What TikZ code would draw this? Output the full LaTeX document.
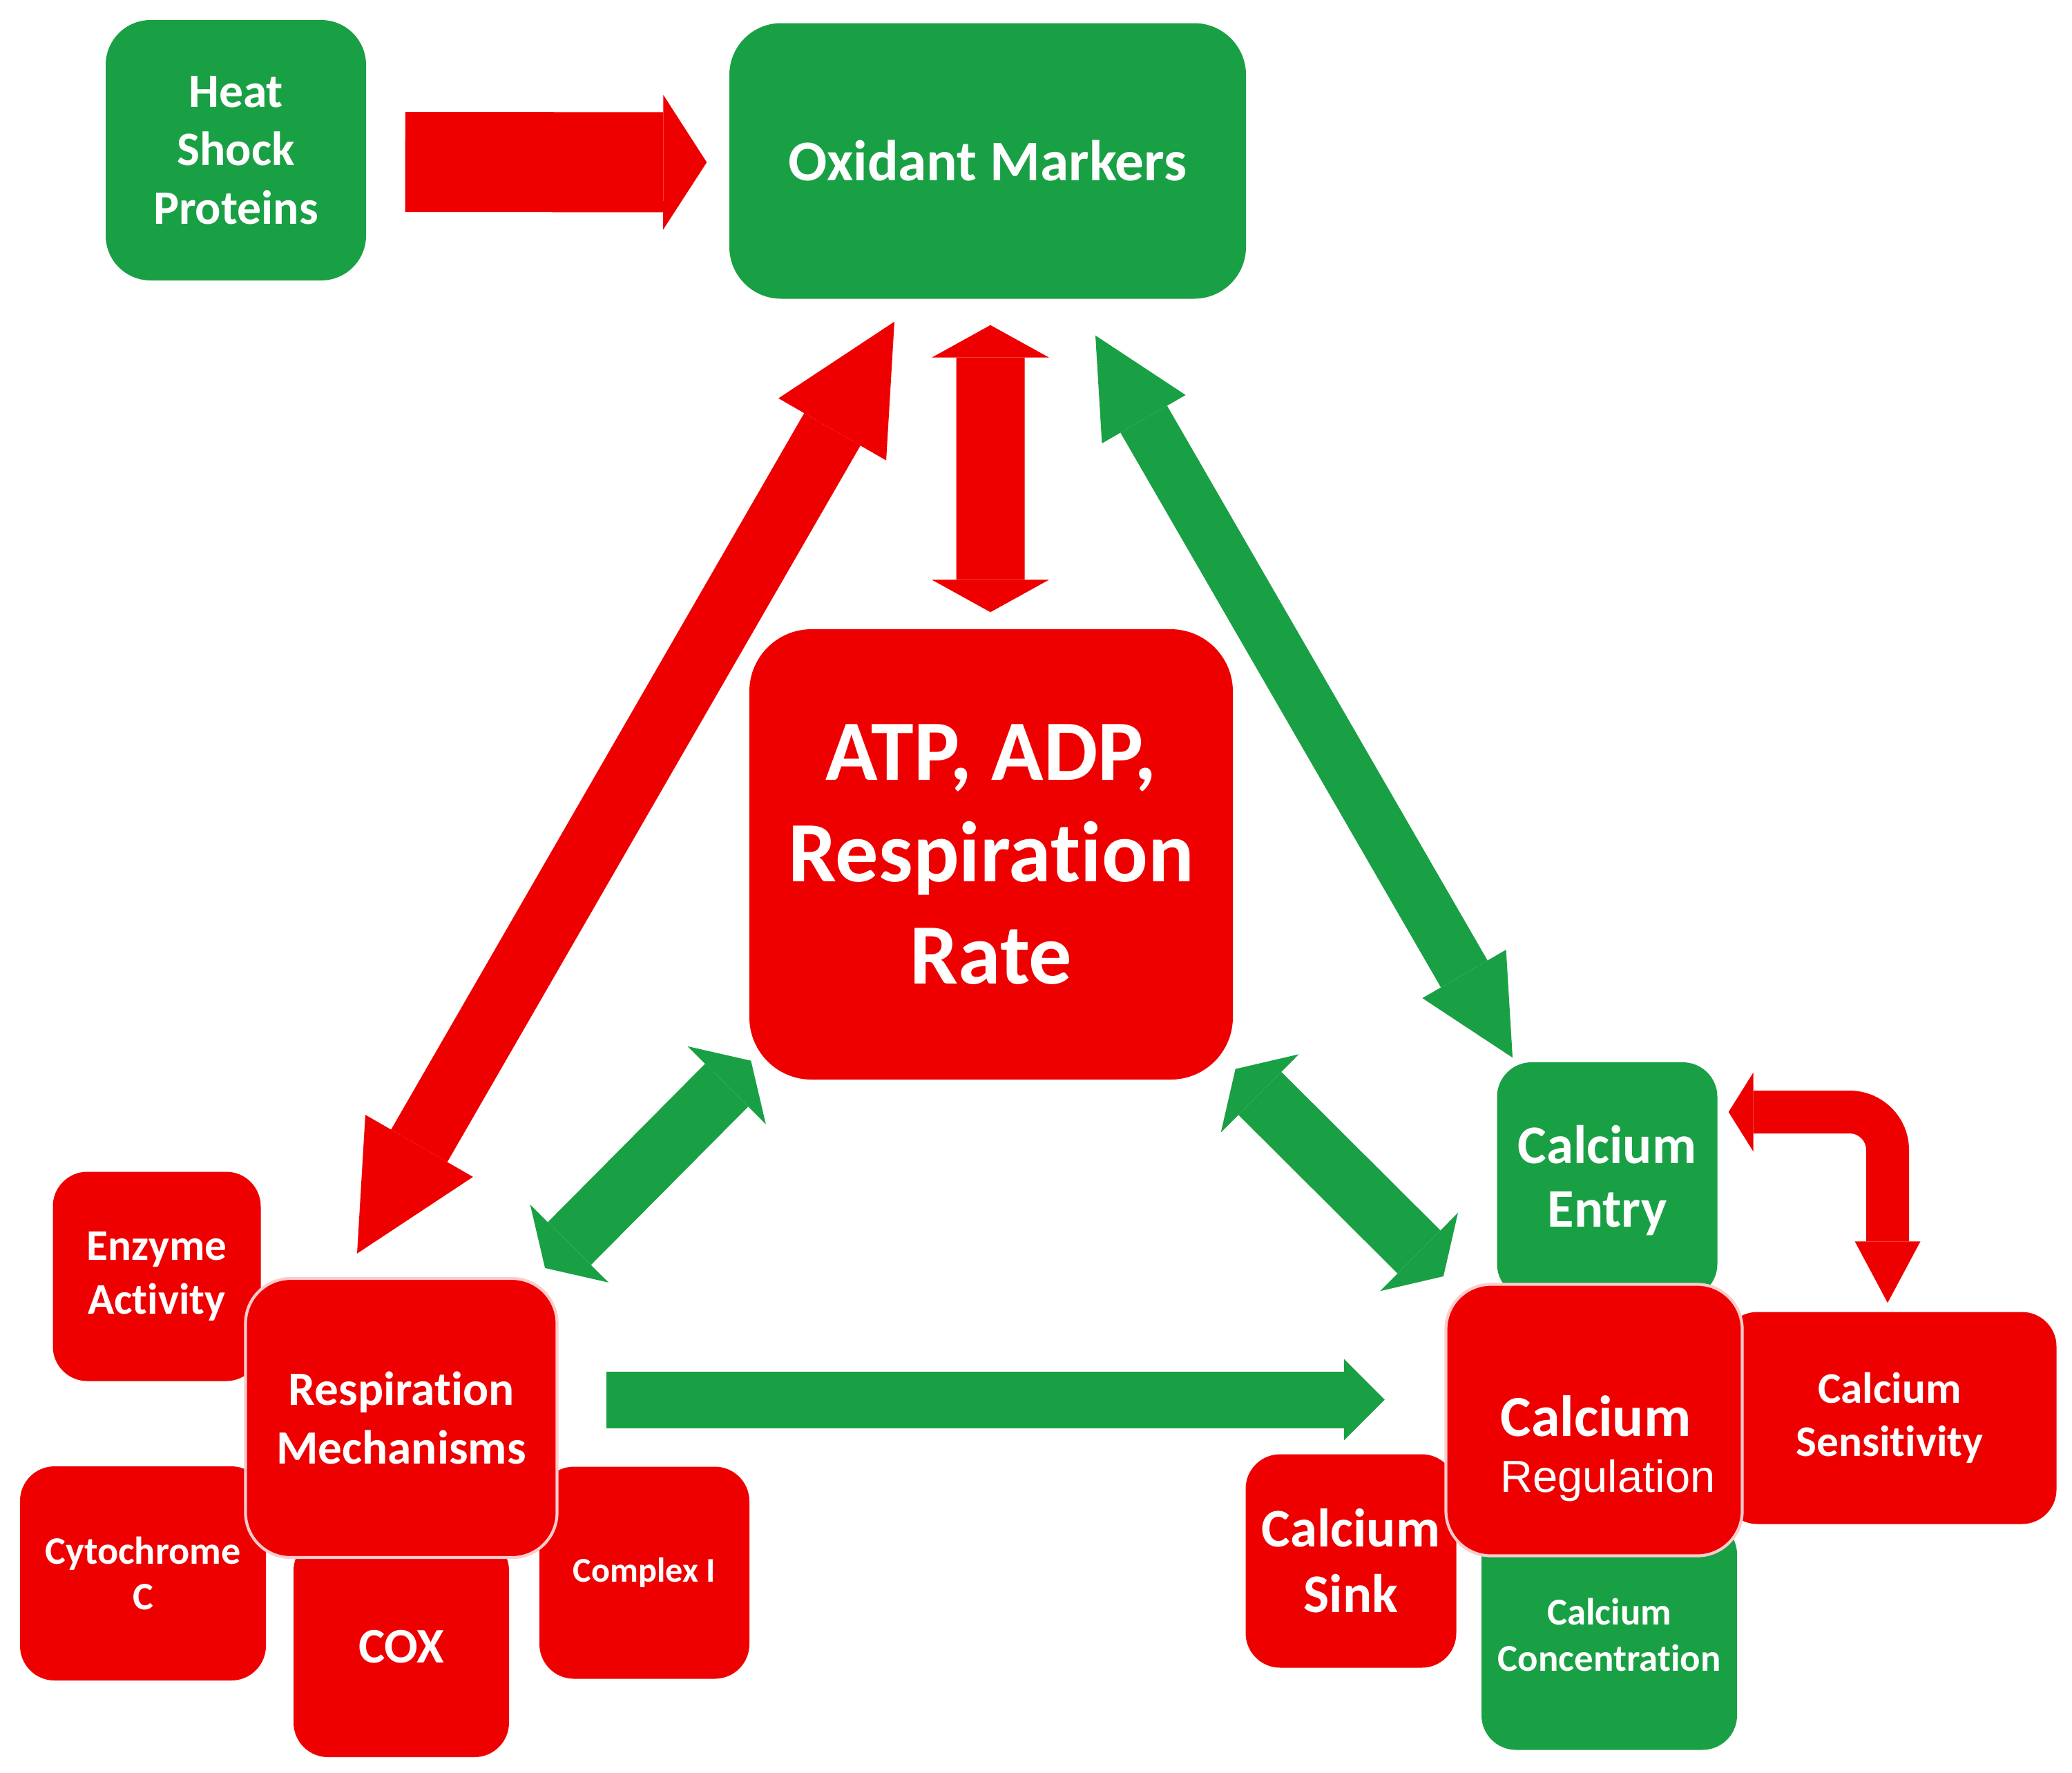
\documentclass[tikz,border=0pt]{standalone}
\usepackage{fontspec}
\setmainfont{Carlito}[Ligatures = NoCommon]
\newfontfamily\arialfont{Liberation Sans}
\usetikzlibrary{arrows.meta}

\definecolor{boxgreen}{RGB}{26,160,68}
\definecolor{boxred}{RGB}{238,0,0}
\newcommand{\boxfont}[2]{\fontsize{#1}{#2}\selectfont\bfseries}

\tikzset{
  box/.style = {rounded corners = 0.5cm, text = white, align = center, inner sep = 0pt},
  greenbox/.style = {box, fill = boxgreen},
  redbox/.style = {box, fill = boxred},
  rimmed/.style = {draw = white!80!boxred, line width = 1.2pt},
  redarrow/.style = {color = boxred},
  greenarrow/.style = {color = boxgreen}
}

\begin{document}
\begin{tikzpicture}
            \useasboundingbox (0, 0) rectangle (30, -25.66);
            % boxes round the respiration mechanisms
            \node [redbox, minimum width = 3.01cm, minimum height = 3.03cm, font = \boxfont{18}{22}] (enzyme) at (2.27, -18.48) {Enzyme\\Activity};
            \node [redbox, minimum width = 3.56cm, minimum height = 3.10cm, font = \boxfont{16}{19}] (cytc) at (2.07, -22.78) {Cytochrome\\C};
            \node [redbox, minimum width = 3.12cm, minimum height = 3.20cm, font = \boxfont{20.5}{24}] (cox) at (5.81, -23.84) {COX};
            \node [redbox, minimum width = 3.04cm, minimum height = 3.07cm, font = \boxfont{14.3}{17}] (complex) at (9.33, -22.77) {Complex I};
            % boxes round the calcium regulation
            \node [greenbox, minimum width = 3.19cm, minimum height = 3.42cm, font = \boxfont{22.4}{26}] (calentry) at (23.27, -17.09) {Calcium\\Entry};
            \node [redbox, minimum width = 4.83cm, minimum height = 3.07cm, font = \boxfont{18}{22}] (calsens) at (27.36, -20.53) {Calcium\\Sensitivity};
            \node [redbox, minimum width = 3.05cm, minimum height = 3.09cm, font = \boxfont{22.4}{27}] (calsink) at (19.56, -22.60) {Calcium\\Sink};
            \node [greenbox, minimum width = 3.70cm, minimum height = 3.33cm, font = \boxfont{15.6}{19}] (calconc) at (23.30, -23.67) {Calcium\\Concentration};
            % main boxes
            \node [greenbox, rounded corners = 0.65cm, minimum width = 3.77cm, minimum height = 3.77cm, font = \boxfont{19.8}{24}] (heat) at (3.415, -2.175) {Heat\\Shock\\Proteins};
            \node [greenbox, rounded corners = 0.75cm, minimum width = 7.48cm, minimum height = 3.99cm, font = \boxfont{23.7}{28}] (oxid) at (14.30, -2.33) {Oxidant Markers};
            \node [redbox, rounded corners = 0.9cm, minimum width = 7.00cm, minimum height = 6.52cm, font = \boxfont{35.4}{42}] (atp) at (14.35, -12.37) {ATP, ADP,\\Respiration\\Rate};
            \node [redbox, rimmed, rounded corners = 0.65cm, minimum width = 4.51cm, minimum height = 4.04cm, font = \boxfont{19.7}{24}] (respmech) at (5.81, -20.53) {Respiration\\Mechanisms};
            \node [redbox, rimmed, rounded corners = 0.65cm, minimum width = 4.29cm, minimum height = 3.93cm] (calreg) at (23.08, -20.56) {};
            \node [text = white, align = left, inner sep = 0pt, font = \boxfont{23.9}{23}] (calregtext) at (23.28, -20.97) {Calcium\\{\arialfont\mdseries\fontsize{18.5}{23}\selectfont Regulation}};
            % arrows
            \draw [redarrow, line width = 1.45cm, -{Triangle[length = 0.63cm, width = 1.95cm, line width' = 0pt]}] ([xshift = 0.56cm, yshift = -0.17cm]heat.east) -- ([xshift = -0.32cm, yshift = -0.02cm]oxid.west);
            \draw [redarrow, line width = 0.99cm, {Triangle[length = 0.47cm, width = 1.7cm, line width' = 0pt]}-{Triangle[length = 0.47cm, width = 1.7cm, line width' = 0pt]}] ([xshift = 0.04cm, yshift = -0.375cm]oxid.south) -- ([xshift = -0.01cm, yshift = 0.24cm]atp.north);
            \draw [redarrow, line width = 0.94cm, {Triangle[length = 1.8cm, width = 1.8cm, line width' = 0pt]}-{Triangle[length = 1.8cm, width = 1.8cm, line width' = 0pt]}] ([xshift = -1.35cm, yshift = -0.325cm]oxid.south) -- ([xshift = -0.64cm, yshift = 0.34cm]respmech.north);
            \draw [greenarrow, line width = 0.78cm, {Triangle[length = 1.4cm, width = 1.4cm, line width' = 0pt]}-{Triangle[length = 1.4cm, width = 1.4cm, line width' = 0pt]}] ([xshift = 1.56cm, yshift = -0.525cm]oxid.south) -- ([xshift = -1.37cm, yshift = 0.06cm]calentry.north);
            \draw [greenarrow, line width = 0.88cm, {Triangle[length = 0.5cm, width = 1.6cm, line width' = 0pt]}-{Triangle[length = 0.5cm, width = 1.6cm, line width' = 0pt]}] ([xshift = 0.03cm, yshift = 0.28cm]atp.south west) -- ([xshift = -0.195cm, yshift = 0.13cm]respmech.north east);
            \draw [greenarrow, line width = 0.88cm, {Triangle[length = 0.5cm, width = 1.6cm, line width' = 0pt]}-{Triangle[length = 0.5cm, width = 1.6cm, line width' = 0pt]}] ([xshift = 0.03cm, yshift = 0.16cm]atp.south east) -- ([xshift = -0.015cm, yshift = 0.095cm]calreg.north west);
            \draw [greenarrow, line width = 0.82cm, -{Triangle[length = 0.59cm, width = 1.18cm, line width' = 0pt]}] ([xshift = 0.695cm, yshift = 0.265cm]respmech.east) -- ([xshift = -0.865cm, yshift = 0.295cm]calreg.west);
            \draw [redarrow, line width = 0.62cm, rounded corners = 0.55cm, {Triangle[length = 0.36cm, width = 1.15cm, line width' = 0pt]}-{Triangle[length = 0.89cm, width = 0.95cm, line width' = 0pt]}] ([xshift = 0.155cm, yshift = 0.99cm]calentry.east) -| ([xshift = -0.03cm, yshift = 0.125cm]calsens.north);
        \end{tikzpicture}
\end{document}
